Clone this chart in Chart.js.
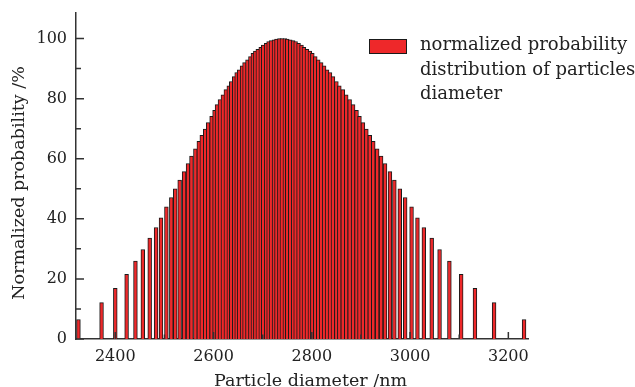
<!DOCTYPE html>
<html>
<head>
<meta charset="utf-8">
<script src="https://cdn.jsdelivr.net/npm/chart.js@4.4.1/dist/chart.umd.min.js"></script>
<style>
html,body{margin:0;padding:0;background:#fff;overflow:hidden}
canvas{display:block}
</style>
</head>
<body>
<canvas id="c" width="635" height="387"></canvas>
<script>
// ---- data ----
const diameters = [
  2325, 2372, 2400, 2423, 2441, 2456, 2470, 2483, 2493, 2504,
  2514, 2522, 2531, 2540, 2548, 2555, 2563, 2570, 2576, 2583,
  2589, 2596, 2602, 2607, 2613, 2619, 2625, 2631, 2636, 2642,
  2647, 2652, 2658, 2663, 2669, 2675, 2680, 2685, 2690, 2696,
  2701, 2707, 2712, 2717, 2723, 2728, 2734, 2739, 2745, 2750,
  2756, 2762, 2767, 2773, 2779, 2784, 2790, 2796, 2801, 2807,
  2813, 2819, 2825, 2831, 2837, 2843, 2850, 2856, 2863, 2870,
  2877, 2884, 2891, 2897, 2904, 2911, 2918, 2925, 2933, 2941,
  2949, 2959, 2968, 2979, 2990, 3003, 3015, 3028, 3044, 3060,
  3080, 3104, 3132, 3171, 3232
];
const probabilities = [
  6.5, 12.1, 16.9, 21.5, 25.9, 29.8, 33.6, 37.1, 40.3, 44.0,
  47.1, 50.0, 52.9, 55.7, 58.4, 60.9, 63.3, 65.8, 67.8, 69.9,
  72.0, 74.1, 76.1, 78.0, 79.7, 81.3, 83.0, 84.3, 85.7, 87.3,
  88.7, 89.6, 90.9, 92.0, 92.9, 94.0, 95.1, 95.8, 96.4, 97.1,
  97.8, 98.4, 99.0, 99.3, 99.6, 99.8, 100, 100, 100, 99.8,
  99.6, 99.3, 99.0, 98.4, 97.8, 97.1, 96.4, 95.8, 95.1, 94.0,
  92.9, 92.0, 90.9, 89.6, 88.7, 87.3, 85.7, 84.3, 83.0, 81.3,
  79.7, 78.0, 76.1, 74.1, 72.0, 69.9, 67.8, 65.8, 63.3, 60.9,
  58.4, 55.7, 52.9, 50.0, 47.1, 44.0, 40.3, 37.1, 33.6, 29.8,
  25.9, 21.5, 16.9, 12.1, 6.5
];
const seriesLabel = ['normalized probability', 'distribution of particles', 'diameter'];
const xTickValues = [2400, 2600, 2800, 3000, 3200];
const xMinorTickValues = [2500, 2700, 2900, 3100];
const yTickValues = [0, 20, 40, 60, 80, 100];
const yMinorTickValues = [10, 30, 50, 70, 90];
const xTitle = 'Particle diameter /nm';
const yTitle = 'Normalized probability /%';

// ---- styling ----
const FONT = '"DejaVu Serif", serif';
const TEXT = '#222';
const AXIS = '#333';
const BAR_FILL = 'rgb(238,40,42)';
const BAR_EDGE = '#1a1a1a';

const points = diameters.map((d, i) => ({x: d, y: probabilities[i]}));

const inwardTicks = {
  id: 'inwardTicks',
  afterDatasetsDraw(chart) {
    const {ctx, chartArea, scales} = chart;
    const xs = scales.x, ys = scales.y;
    ctx.save();
    ctx.strokeStyle = AXIS;
    ctx.lineWidth = 1.5;
    ctx.beginPath();
    const xt = (vals, len) => vals.forEach(v => {
      const p = xs.getPixelForValue(v);
      ctx.moveTo(p, chartArea.bottom);
      ctx.lineTo(p, chartArea.bottom - len);
    });
    const yt = (vals, len) => vals.forEach(v => {
      const p = ys.getPixelForValue(v);
      ctx.moveTo(chartArea.left, p);
      ctx.lineTo(chartArea.left + len, p);
    });
    xt(xTickValues, 7); xt(xMinorTickValues, 4.5);
    yt(yTickValues, 8); yt(yMinorTickValues, 5);
    ctx.stroke();
    ctx.restore();
  }
};

const axisTitles = {
  id: 'axisTitles',
  afterDraw(chart) {
    const {ctx, chartArea} = chart;
    ctx.save();
    ctx.font = '17.5px ' + FONT;
    ctx.fillStyle = TEXT;
    ctx.textAlign = 'center';
    ctx.textBaseline = 'alphabetic';
    ctx.fillText(xTitle, (chartArea.left + chartArea.right) / 2 + 8.5, 386);
    ctx.translate(19.5, (chartArea.top + chartArea.bottom) / 2 + 7);
    ctx.rotate(-Math.PI / 2);
    ctx.textBaseline = 'middle';
    ctx.fillText(yTitle, 0, 0);
    ctx.restore();
  }
};

const legendBlock = {
  id: 'legendBlock',
  afterDraw(chart) {
    const ctx = chart.ctx;
    const ds = chart.data.datasets[0];
    ctx.save();
    ctx.fillStyle = ds.backgroundColor;
    ctx.fillRect(369.5, 39.5, 37, 14);
    ctx.strokeStyle = BAR_EDGE;
    ctx.lineWidth = 1;
    ctx.strokeRect(369.5, 39.5, 37, 14);
    ctx.font = '18px ' + FONT;
    ctx.fillStyle = TEXT;
    ctx.textBaseline = 'alphabetic';
    ctx.textAlign = 'left';
    ds.label.forEach((line, i) => ctx.fillText(line, 420, 50 + i * 24.5));
    ctx.restore();
  }
};

new Chart(document.getElementById('c'), {
  type: 'bar',
  data: {
    datasets: [{
      label: seriesLabel,
      data: points,
      backgroundColor: BAR_FILL,
      borderColor: BAR_EDGE,
      borderWidth: 1,
      barThickness: 3.8
    }]
  },
  options: {
    responsive: false,
    animation: false,
    devicePixelRatio: 1,
    layout: {padding: {top: 12, right: 107, left: 0, bottom: 0}},
    plugins: {legend: {display: false}, tooltip: {enabled: false}},
    scales: {
      x: {
        type: 'linear',
        min: 2320, max: 3240,
        offset: false,
        z: 1,
        grid: {display: false, drawTicks: false, offset: false},
        border: {display: true, color: AXIS, width: 1.5},
        afterBuildTicks: s => { s.ticks = xTickValues.map(v => ({value: v})); },
        afterFit: s => { s.height = 48; },
        ticks: {color: TEXT, font: {family: FONT, size: 16}, padding: 8, maxRotation: 0,
                callback: v => String(v)},
        title: {display: false}
      },
      y: {
        type: 'linear',
        min: 0, max: 108.5,
        z: 1,
        grid: {display: false, drawTicks: false},
        border: {display: true, color: AXIS, width: 1.5},
        afterBuildTicks: s => { s.ticks = yTickValues.map(v => ({value: v})); },
        afterFit: s => { s.width = 76; },
        ticks: {color: TEXT, font: {family: FONT, size: 16, lineHeight: 0.5}, padding: 9,
                callback: v => String(v)},
        title: {display: false}
      }
    }
  },
  plugins: [inwardTicks, axisTitles, legendBlock]
});
</script>
</body>
</html>
